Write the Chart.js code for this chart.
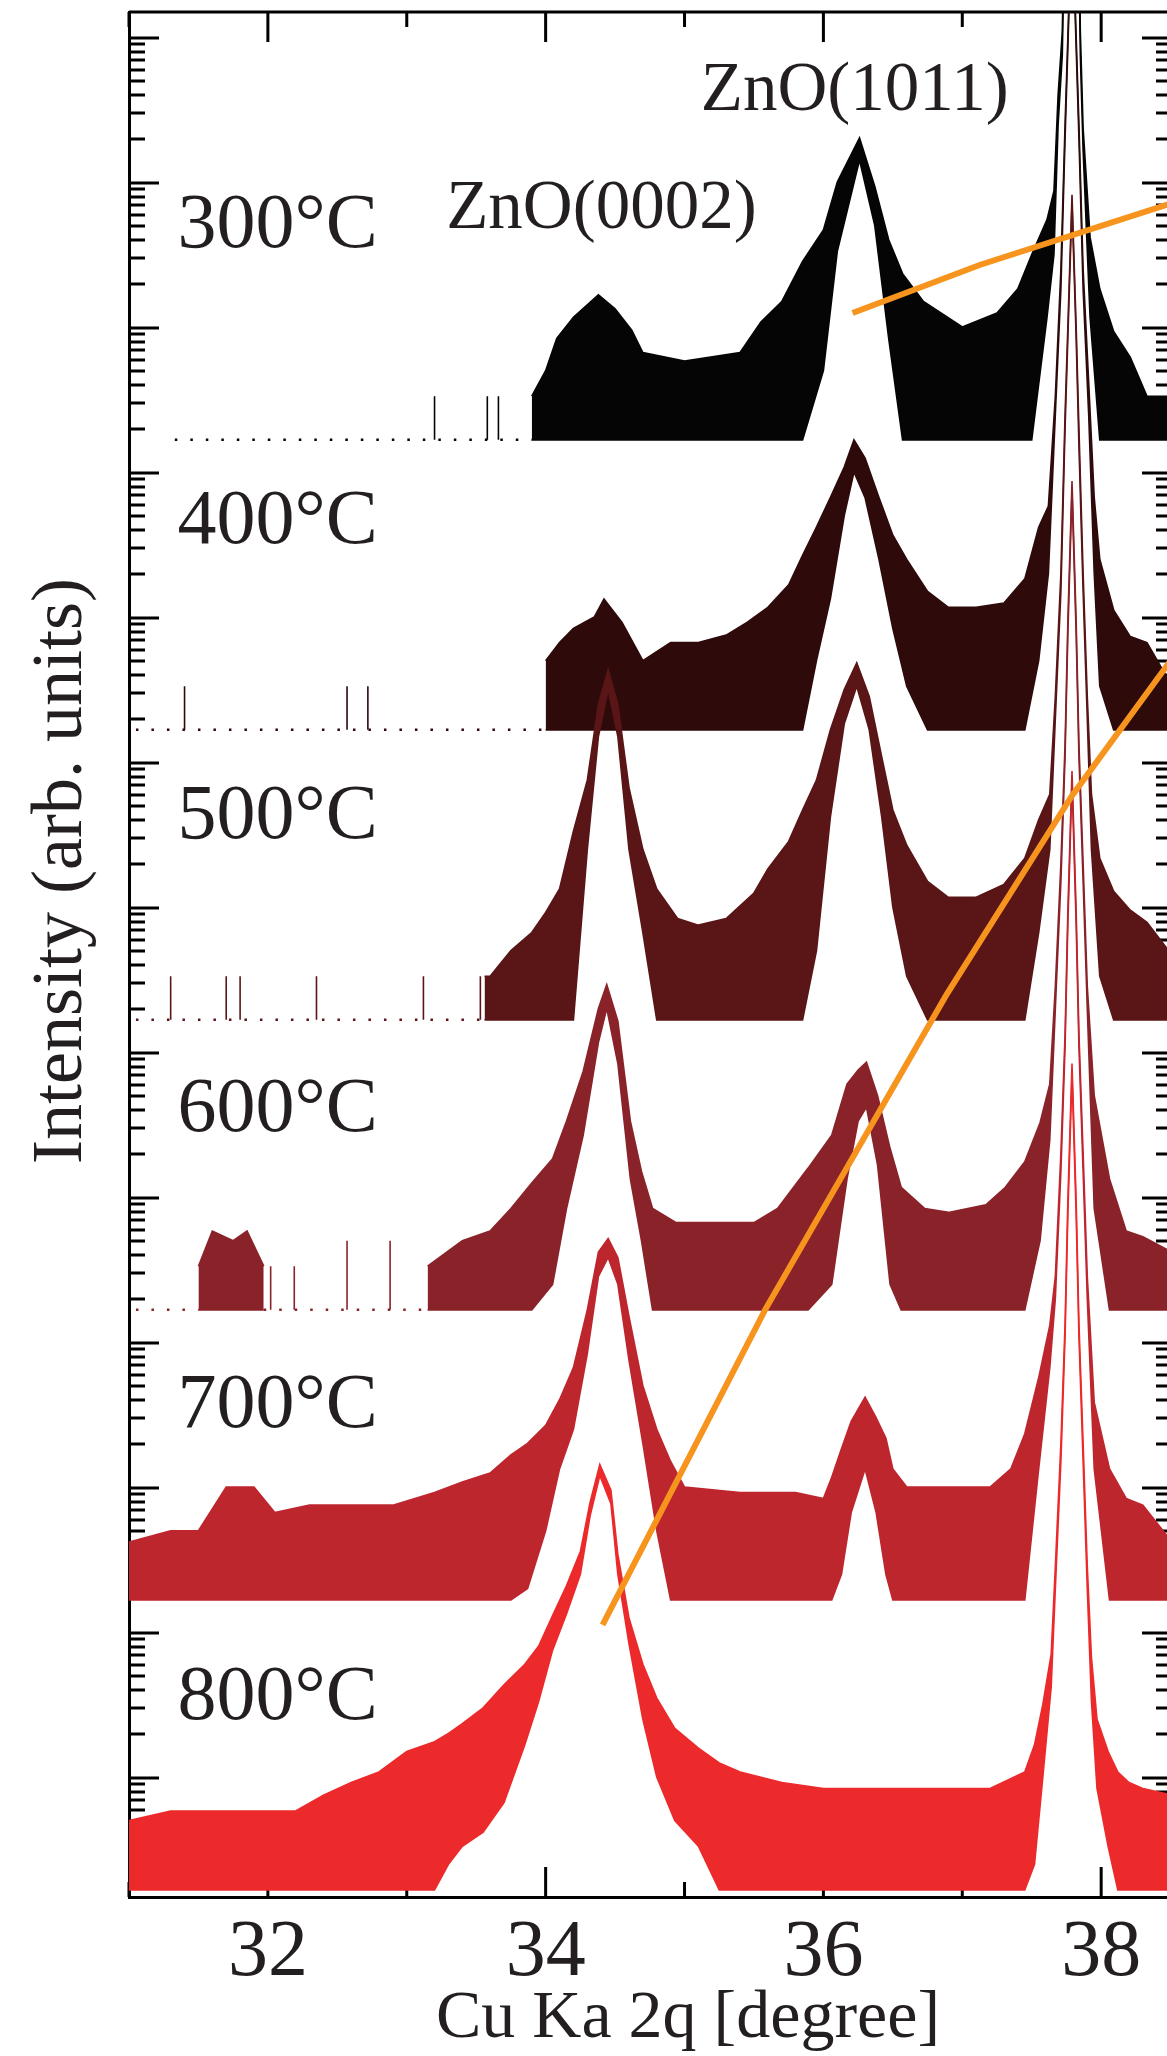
<!DOCTYPE html>
<html>
<head>
<meta charset="utf-8">
<script src="https://cdn.jsdelivr.net/npm/chart.js@4.4.0/dist/chart.umd.min.js"></script>
<style>
  html, body { margin: 0; padding: 0; background: #fff; overflow: hidden; }
  #wrap { width: 1180px; height: 2056px; }
</style>
</head>
<body>
<div id="wrap"><canvas id="xrd" width="1180" height="2056"></canvas></div>
<script>
// XRD scans of ZnO films vs. annealing temperature, stacked on a log axis
// (each scan is shifted up by two decades). Counts:
// HI = top of the noise band, LO = bottom of it.

const X_TICKS  = [31, 32, 33, 34, 35, 36, 37, 38];
const X_LABELS = ['', '32', '', '34', '', '36', '', '38'];

const TEMPS  = ['800°C', '700°C', '600°C', '500°C', '400°C', '300°C'];
const COLORS = ['#ec2a2b', '#be262e', '#8a2329', '#5a1517', '#2e0a0b', '#050505'];
const TEMP_LABEL_X = 31.35;
const TEMP_LABEL_LEVEL = [15, 15.5, 17, 18, 19.5, 21.5];

const BASE = 1.68;   // plotted value of one count for the bottom scan
const STEP = 100;    // offset between neighbouring scans

// 800 °C
const X_800  = [31.0, 31.3, 31.6, 31.9, 32.2, 32.4, 32.6, 32.8, 33.0, 33.2, 33.3, 33.4, 33.55, 33.7, 33.85, 33.95, 34.05, 34.15, 34.25, 34.32, 34.39, 34.47, 34.52, 34.6, 34.7, 34.8, 34.93, 35.1, 35.25, 35.4, 35.7, 36.0, 36.4, 36.8, 37.2, 37.45, 37.52, 37.58, 37.64, 37.67, 37.71, 37.74, 37.76, 37.79, 37.82, 37.84, 37.87, 37.9, 37.93, 37.97, 38.05, 38.12, 38.2, 38.3, 38.51];
const HI_800 = [3, 3.5, 3.5, 3.5, 3.5, 4.5, 5.5, 6.5, 9, 10.5, 12, 14, 18, 26, 36, 48, 78, 125, 215, 470, 860, 570, 205, 75, 36, 21, 13, 9.5, 7.5, 6.5, 5.5, 5, 5, 5, 5, 6.5, 10, 19, 42, 170, 1200, 8000, 56000, 500000, 56000, 8000, 1200, 170, 40, 15, 9, 6.5, 5.5, 5, 4.5];
const LO_800 = [1, 1, 1, 1, 1, 1, 1, 1, 1, 1, 1.5, 2, 2.5, 4, 10, 20, 45, 80, 150, 380, 720, 460, 150, 50, 15, 6, 3, 2, 1, 1, 1, 1, 1, 1, 1, 1, 1.5, 6, 25, 120, 900, 6500, 45000, 420000, 45000, 6500, 900, 120, 20, 5, 2, 1, 1, 1, 1];

// 700 °C
const X_700  = [31.0, 31.3, 31.5, 31.7, 31.9, 32.05, 32.3, 32.6, 32.9, 33.2, 33.4, 33.6, 33.75, 33.87, 34.0, 34.1, 34.2, 34.3, 34.38, 34.45, 34.52, 34.6, 34.7, 34.8, 34.9, 35.0, 35.4, 35.8, 36.0, 36.06, 36.13, 36.2, 36.3, 36.38, 36.45, 36.5, 36.6, 36.9, 37.2, 37.35, 37.45, 37.55, 37.63, 37.67, 37.71, 37.74, 37.76, 37.79, 37.82, 37.84, 37.87, 37.9, 37.95, 38.06, 38.18, 38.3, 38.51];
const HI_700 = [2.5, 3, 3, 6, 6, 4, 4.5, 4.5, 4.5, 5.5, 6.5, 7.5, 10, 12, 16, 24, 40, 100, 250, 310, 230, 90, 30, 15, 9, 6, 5.5, 5.5, 5, 7, 11, 17, 25, 18, 13, 8, 6, 6, 6, 8, 14, 34, 78, 170, 1200, 8000, 56000, 520000, 56000, 8000, 1200, 170, 23, 8, 5, 4.5, 2.5];
const LO_700 = [1, 1, 1, 1, 1, 1, 1, 1, 1, 1, 1, 1, 1, 1.2, 3, 8, 15, 50, 170, 230, 150, 45, 12, 3, 1, 1, 1, 1, 1, 1, 1.5, 4, 8, 4, 1.5, 1, 1, 1, 1, 1, 1, 8, 40, 120, 900, 6500, 45000, 440000, 45000, 6500, 900, 120, 8, 1, 1, 1, 1];

// 600 °C
const X_600  = [31.5, 31.6, 31.75, 31.85, 31.97, 32.5, 33.15, 33.4, 33.6, 33.75, 33.9, 34.05, 34.15, 34.27, 34.38, 34.44, 34.52, 34.61, 34.69, 34.77, 34.94, 35.2, 35.5, 35.67, 35.89, 36.06, 36.17, 36.25, 36.31, 36.39, 36.48, 36.56, 36.73, 36.9, 37.17, 37.31, 37.45, 37.56, 37.63, 37.67, 37.71, 37.74, 37.76, 37.79, 37.82, 37.84, 37.87, 37.9, 37.95, 38.06, 38.18, 38.3, 38.51];
const HI_600 = [2, 3.5, 3, 3.5, 2, null, 2, 3, 3.5, 5, 7.5, 11, 20, 44, 120, 175, 98, 20, 9, 5, 4, 4, 4, 5, 9.5, 16, 36, 45, 51, 30, 13, 7, 5, 4.7, 5.3, 7, 10.5, 19.5, 36, 170, 1200, 8000, 56000, 520000, 56000, 8000, 1200, 170, 30, 8, 3.5, 3.2, 2.5];
const LO_600 = [1, 1, 1, 1, 1, null, 1, 1, 1, 1, 1, 1.5, 5, 16, 70, 120, 50, 8, 3, 1, 1, 1, 1, 1, 1, 1.5, 8, 20, 25, 10, 1.5, 1, 1, 1, 1, 1, 1, 3, 15, 120, 900, 6500, 45000, 440000, 45000, 6500, 900, 120, 5, 1, 1, 1, 1];

// 500 °C
const X_500  = [33.56, 33.6, 33.75, 33.9, 34.0, 34.1, 34.2, 34.3, 34.38, 34.45, 34.52, 34.6, 34.7, 34.8, 34.95, 35.1, 35.3, 35.5, 35.6, 35.75, 35.85, 35.95, 36.05, 36.15, 36.24, 36.33, 36.42, 36.5, 36.6, 36.75, 36.9, 37.1, 37.3, 37.45, 37.55, 37.63, 37.67, 37.71, 37.74, 37.76, 37.79, 37.82, 37.84, 37.87, 37.9, 37.93, 37.99, 38.09, 38.21, 38.33, 38.51];
const HI_500 = [2, 2, 3, 4, 5.5, 8, 20, 45, 150, 260, 150, 40, 15, 8, 5, 4.5, 5, 7.5, 11, 17, 28, 45, 100, 190, 290, 170, 65, 28, 16, 9, 7, 7, 8.6, 13, 24, 36, 170, 1200, 15000, 60000, 490000, 60000, 12000, 1200, 170, 36, 13, 7.7, 5.7, 4.7, 2.8];
const LO_500 = [1, 1, 1, 1, 1, 1, 1, 15, 90, 190, 90, 15, 4, 1, 1, 1, 1, 1, 1, 1, 1, 3, 25, 110, 200, 100, 25, 6, 2, 1, 1, 1, 1, 1, 4, 15, 120, 900, 12000, 50000, 420000, 50000, 9000, 900, 120, 15, 2, 1, 1, 1, 1];

// 400 °C
const X_400  = [34.0, 34.1, 34.2, 34.35, 34.42, 34.55, 34.7, 34.9, 35.1, 35.3, 35.45, 35.6, 35.75, 35.85, 35.95, 36.05, 36.15, 36.22, 36.3, 36.4, 36.5, 36.6, 36.75, 36.9, 37.1, 37.3, 37.45, 37.55, 37.62, 37.67, 37.71, 37.74, 37.76, 37.79, 37.82, 37.84, 37.87, 37.91, 37.95, 37.99, 38.09, 38.21, 38.33, 38.51];
const HI_400 = [3, 4, 5, 6, 8, 5.5, 3, 4, 4, 4.5, 5.5, 7, 10, 16, 25, 40, 65, 100, 75, 40, 22, 15, 9, 7, 7, 7.5, 11, 25, 35, 200, 1500, 15000, 60000, 520000, 60000, 15000, 1500, 250, 40, 15, 6.7, 4.4, 4, 2];
const LO_400 = [1, 1, 1, 1, 1, 1, 1, 1, 1, 1, 1, 1, 1, 1, 3, 8, 30, 60, 40, 15, 5, 2, 1, 1, 1, 1, 1, 3, 12, 150, 1100, 12000, 50000, 440000, 50000, 12000, 1100, 150, 12, 2, 1, 1, 1, 1];

// 300 °C
const X_300  = [33.9, 34.0, 34.08, 34.2, 34.38, 34.5, 34.62, 34.7, 35.0, 35.4, 35.55, 35.7, 35.85, 36.0, 36.1, 36.26, 36.37, 36.47, 36.57, 36.72, 37.0, 37.25, 37.4, 37.5, 37.61, 37.66, 37.69, 37.72, 37.76, 37.79, 37.82, 37.85, 37.87, 37.92, 37.99, 38.09, 38.21, 38.33, 38.51];
const HI_300 = [2, 3, 5, 7, 10, 8, 5.7, 4, 3.5, 4, 6.5, 9, 17, 28, 60, 121, 56, 24, 14, 9, 6, 7.5, 11, 19, 33, 52, 240, 650, 60000, 520000, 60000, 650, 141, 25, 11, 5.6, 3.7, 2, 2];
const LO_300 = [1, 1, 1, 1, 1, 1, 1, 1, 1, 1, 1, 1, 1, 3, 20, 85, 30, 5, 1, 1, 1, 1, 1, 1, 7, 19, 150, 450, 50000, 440000, 50000, 450, 100, 7, 1, 1, 1, 1, 1];

// stretches where only single counts show up (dotted baseline), and isolated spikes
const SPARSE_600 = [31.05, 31.5, null, 31.97, 33.15];
const SPARSE_500 = [31.05, 33.56];
const SPARSE_400 = [31.05, 34.0];
const SPARSE_300 = [31.33, 33.9];
const SPIKE_X_600 = [32.02, 32.19, 32.57, 32.88];
const SPIKE_Y_600 = [2, 2, 3, 3];
const SPIKE_X_500 = [31.30, 31.70, 31.80, 32.35, 33.12, 33.53];
const SPIKE_Y_500 = [2, 2, 2, 2, 2, 2];
const SPIKE_X_400 = [31.40, 32.57, 32.72];
const SPIKE_Y_400 = [2, 2, 2];
const SPIKE_X_300 = [33.20, 33.58, 33.66];
const SPIKE_Y_300 = [2, 2, 2];

// orange guide lines (plotted values)
const GUIDE_A_X = [36.21, 37.13, 38.51];
const GUIDE_A_Y = [1.26e11, 2.71e11, 7.2e11];
const GUIDE_B_X = [34.41, 35.58, 36.89, 37.79, 38.51];
const GUIDE_B_Y = [113, 1.68e4, 2.54e6, 5.9e7, 5.2e8];

const PEAK_NAMES = ['ZnO(0002)', 'ZnO(1011)'];
const PEAK_NAME_X = [33.284, 35.117];
const PEAK_NAME_Y = [4.85e11, 3.16e12];

const AXIS_MIN = 1.5, AXIS_MAX = 1.5e13;
const TEXT = '#231f20';
const ORANGE = '#f7941d';
const SERIF = '"Liberation Serif", "Times New Roman", serif';

const SCANS = [
  { xs: X_800, hi: HI_800, lo: LO_800 },
  { xs: X_700, hi: HI_700, lo: LO_700 },
  { xs: X_600, hi: HI_600, lo: LO_600, sparse: SPARSE_600, spikeX: SPIKE_X_600, spikeY: SPIKE_Y_600 },
  { xs: X_500, hi: HI_500, lo: LO_500, sparse: SPARSE_500, spikeX: SPIKE_X_500, spikeY: SPIKE_Y_500 },
  { xs: X_400, hi: HI_400, lo: LO_400, sparse: SPARSE_400, spikeX: SPIKE_X_400, spikeY: SPIKE_Y_400 },
  { xs: X_300, hi: HI_300, lo: LO_300, sparse: SPARSE_300, spikeX: SPIKE_X_300, spikeY: SPIKE_Y_300 },
];

function shift(k) {
  return BASE * Math.pow(STEP, k);
}

function buildDatasets() {
  const datasets = [];
  SCANS.forEach((s, k) => {
    const f = shift(k);
    const color = COLORS[k];
    const order = k + 1;
    const pts = arr => s.xs.map((x, i) => ({ x, y: arr[i] == null ? null : arr[i] * f }));

    datasets.push({
      label: TEMPS[k], data: pts(s.hi),
      borderColor: color, backgroundColor: color, borderWidth: 1.6,
      fill: '+1', order,
    });
    datasets.push({
      label: TEMPS[k] + ' low', data: pts(s.lo),
      borderColor: color, borderWidth: 1.6, fill: false, order,
    });

    if (s.sparse) {
      datasets.push({
        label: TEMPS[k] + ' sparse',
        data: s.sparse.map(x => ({ x: x == null ? 31.75 : x, y: x == null ? null : f })),
        borderColor: color, borderWidth: 2.5, borderDash: [2.5, 13], fill: false, order,
      });
    }
    if (s.spikeX) {
      const d = [];
      s.spikeX.forEach((x, i) => {
        d.push({ x, y: f }, { x, y: s.spikeY[i] * f }, { x, y: null });
      });
      datasets.push({
        label: TEMPS[k] + ' spikes', data: d,
        borderColor: color, borderWidth: 1.6, fill: false, order,
      });
    }
  });

  datasets.push({
    label: 'guide a', data: GUIDE_A_X.map((x, i) => ({ x, y: GUIDE_A_Y[i] })),
    borderColor: ORANGE, borderWidth: 6, fill: false, order: 0,
  });
  datasets.push({
    label: 'guide b', data: GUIDE_B_X.map((x, i) => ({ x, y: GUIDE_B_Y[i] })),
    borderColor: ORANGE, borderWidth: 6, fill: false, order: 0,
  });
  return datasets;
}

// inward tick marks on all four sides plus the top/right frame
const frameTicks = {
  id: 'frameTicks',
  beforeDatasetsDraw(chart) {
    const { ctx, chartArea: a, scales: { x, y } } = chart;
    ctx.save();
    ctx.strokeStyle = '#000';
    ctx.lineWidth = 3;
    ctx.beginPath();
    x.ticks.forEach(t => {
      const px = x.getPixelForValue(t.value);
      const len = t.value % 2 === 0 ? 30 : 15;
      ctx.moveTo(px, a.top); ctx.lineTo(px, a.top + len);
      ctx.moveTo(px, a.bottom); ctx.lineTo(px, a.bottom - len);
    });
    y.ticks.forEach(t => {
      const py = Math.round(y.getPixelForValue(t.value));
      const len = t.major ? 30 : 16;
      ctx.moveTo(a.left, py); ctx.lineTo(a.left + len, py);
      ctx.moveTo(a.right, py); ctx.lineTo(a.right - len, py);
    });
    ctx.stroke();
    ctx.beginPath();
    ctx.moveTo(a.left, a.top); ctx.lineTo(a.right, a.top); ctx.lineTo(a.right, a.bottom);
    ctx.stroke();
    ctx.restore();
  }
};

// temperature labels, peak names and both axis titles
const annotations = {
  id: 'annotations',
  afterDatasetsDraw(chart) {
    const { ctx, scales: { x, y } } = chart;
    ctx.save();
    ctx.fillStyle = TEXT;
    ctx.textAlign = 'left';
    ctx.textBaseline = 'alphabetic';
    ctx.font = '78px ' + SERIF;
    TEMPS.forEach((t, k) => {
      ctx.fillText(t, x.getPixelForValue(TEMP_LABEL_X), y.getPixelForValue(TEMP_LABEL_LEVEL[k] * shift(k)));
    });
    ctx.font = '69px ' + SERIF;
    PEAK_NAMES.forEach((t, i) => {
      ctx.fillText(t, x.getPixelForValue(PEAK_NAME_X[i]), y.getPixelForValue(PEAK_NAME_Y[i]));
    });
    ctx.restore();
  },
  afterDraw(chart) {
    const { ctx } = chart;
    ctx.save();
    ctx.fillStyle = TEXT;
    ctx.textAlign = 'center';

    ctx.font = '68px ' + SERIF;
    ctx.textBaseline = 'middle';
    ctx.fillText('Cu Ka 2q [degree]', 688, 2019);

    ctx.font = '72px ' + SERIF;
    ctx.textBaseline = 'alphabetic';
    ctx.translate(81, 871);
    ctx.rotate(-Math.PI / 2);
    ctx.fillText('Intensity (arb. units)', 0, 0);
    ctx.restore();
  }
};

function draw() {
  const ctx = document.getElementById('xrd');
  new Chart(ctx, {
    type: 'line',
    data: { datasets: buildDatasets() },
    options: {
      responsive: false,
      animation: false,
      events: [],
      devicePixelRatio: 1,
      layout: { padding: { top: 12, right: 8, left: 0, bottom: 0 } },
      elements: {
        point: { radius: 0, hoverRadius: 0 },
        line: { tension: 0, borderCapStyle: 'butt', borderJoinStyle: 'miter' },
      },
      spanGaps: false,
      plugins: {
        legend: { display: false },
        tooltip: { enabled: false },
        filler: { propagate: false },
      },
      scales: {
        x: {
          type: 'linear',
          min: 31,
          max: 38.51,
          afterBuildTicks: s => { s.ticks = X_TICKS.map(v => ({ value: v })); },
          afterFit: s => { s.height = 159; },
          grid: { display: false },
          border: { display: true, width: 3, color: '#000' },
          ticks: {
            autoSkip: false,
            maxRotation: 0,
            padding: 1,
            color: TEXT,
            font: { family: SERIF, size: 80 },
            callback: (v, i) => X_LABELS[i],
          },
          title: { display: false },
        },
        y: {
          type: 'logarithmic',
          min: AXIS_MIN,
          max: AXIS_MAX,
          afterBuildTicks: s => {
            const ticks = [];
            for (let e = 0; e <= 13; e++) {
              for (let m = 1; m <= 9; m++) {
                const v = m * Math.pow(10, e);
                if (v >= AXIS_MIN && v <= AXIS_MAX) ticks.push({ value: v, major: m === 1 });
              }
            }
            s.ticks = ticks;
          },
          afterFit: s => { s.width = 129; },
          grid: { display: false },
          border: { display: true, width: 3, color: '#000' },
          ticks: { display: false },
          title: { display: false },
        },
      },
    },
    plugins: [frameTicks, annotations],
  });
}

if (document.fonts && document.fonts.load) {
  Promise.all([
    document.fonts.load('78px "Liberation Serif"'),
  ]).then(draw, draw);
} else {
  draw();
}
</script>
</body>
</html>
